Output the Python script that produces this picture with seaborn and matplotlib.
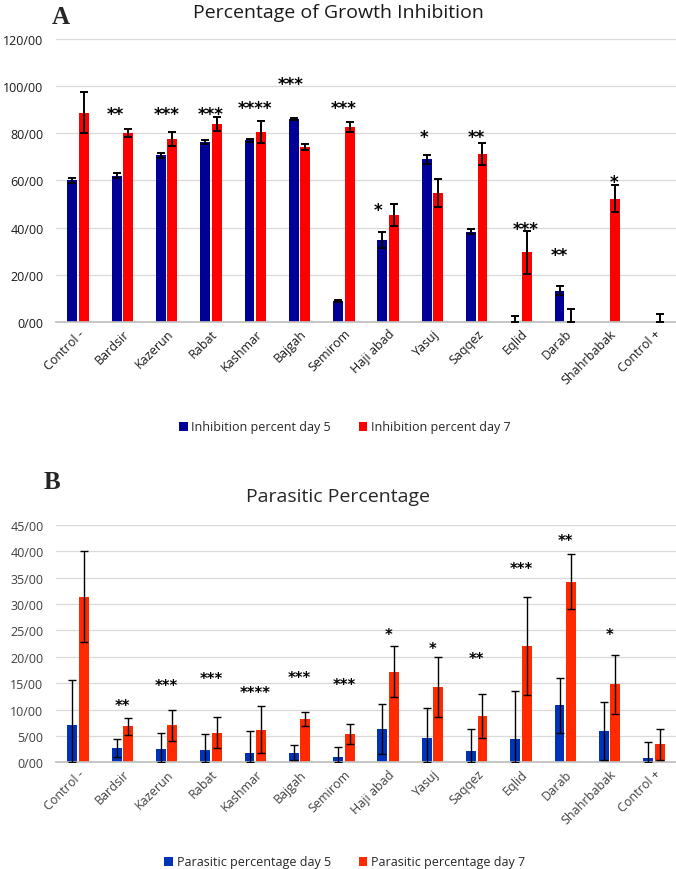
import numpy as np
import pandas as pd
import matplotlib
matplotlib.use("Agg")
import matplotlib.pyplot as plt
from matplotlib.ticker import FuncFormatter
import seaborn as sns

# Data
sites = ["Control -", "Bardsir", "Kazerun", "Rabat", "Kashmar", "Bajgah", "Semirom",
         "Haji abad", "Yasuj", "Saqqez", "Eqlid", "Darab", "Shahrbabak", "Control +"]

# Panel A: percentage of growth inhibition
inhib_day5 = [60.0, 62.0, 70.7, 76.4, 77.0, 86.0, 8.9, 34.7, 69.0, 38.2, 0.0, 13.2, 0.0, 0.0]
inhib_day5_err = [1.1, 1.0, 1.1, 0.8, 0.7, 0.3, 0.5, 3.2, 1.9, 1.1, 2.5, 1.8, 0.0, 0.0]
inhib_day7 = [88.8, 80.1, 77.5, 83.9, 80.6, 74.0, 82.7, 45.3, 54.6, 71.1, 29.4, 0.0, 52.3, 0.0]
inhib_day7_err = [8.6, 1.6, 3.1, 3.1, 4.7, 1.3, 2.2, 4.6, 5.9, 4.6, 9.2, 5.4, 5.7, 3.3]
inhib_stars = ["", "**", "***", "***", "****", "***", "***", "*", "*", "**", "***", "**", "*", ""]
inhib_star_y = [0, 89.5, 89.5, 89.5, 92.0, 102.2, 92.0, 48.5, 79.6, 79.6, 40.5, 29.4, 60.8, 0]

# Panel B: parasitic percentage
para_day5 = [7.0, 2.8, 2.6, 2.4, 1.7, 1.8, 1.0, 6.3, 4.6, 2.2, 4.35, 10.85, 6.0, 0.8]
para_day5_err = [8.6, 1.7, 3.0, 3.0, 4.3, 1.4, 2.0, 4.8, 5.7, 4.1, 9.2, 5.2, 5.5, 3.0]
para_day7 = [31.4, 6.8, 7.0, 5.6, 6.2, 8.2, 5.4, 17.2, 14.2, 8.8, 22.1, 34.2, 14.8, 3.4]
para_day7_err = [8.6, 1.6, 3.0, 2.9, 4.4, 1.4, 1.9, 4.8, 5.7, 4.2, 9.3, 5.2, 5.6, 3.0]
para_stars = ["", "**", "***", "***", "****", "***", "***", "*", "*", "**", "***", "**", "*", ""]
para_star_y = [0, 11.2, 15.0, 16.3, 13.75, 16.5, 15.2, 24.7, 22.1, 20.2, 37.2, 42.5, 24.8, 0]

# star horizontal nudges (category units) for panel A
star_dx_a = [0, -0.15, 0, 0, 0, -0.2, 0, -0.22, -0.2, 0, 0.1, -0.13, 0.1, 0]

sns.set_theme(style="white")
plt.rcParams["font.family"] = ["Open Sans", "DejaVu Sans"]


def long_frame(day5, day7, label5, label7):
    df5 = pd.DataFrame({"site": sites, "value": day5, "series": label5})
    df7 = pd.DataFrame({"site": sites, "value": day7, "series": label7})
    return pd.concat([df5, df7], ignore_index=True)


def draw_panel(ax, df, errs, colors, ymax, ystep, stars, star_y, star_dx,
               star_size, tick_color, err_lw, legend_y, fig):
    sns.barplot(data=df, x="site", y="value", hue="series", palette=colors,
                width=0.52, gap=0.14, errorbar=None, saturation=1,
                edgecolor="none", ax=ax)
    bar_groups = list(ax.containers)
    for bars, err in zip(bar_groups, errs):
        xs = [b.get_x() + b.get_width() / 2 for b in bars]
        hs = np.array([b.get_height() for b in bars])
        err = np.array(err)
        mask = err > 0
        lower = np.minimum(err, hs)
        ax.errorbar(np.array(xs)[mask], hs[mask],
                    yerr=[lower[mask], err[mask]], fmt="none",
                    ecolor="black", elinewidth=err_lw, capsize=3,
                    capthick=err_lw, zorder=4)
    # asterisks: nudge down so the glyph centre sits on the read value
    for i, s in enumerate(stars):
        if s:
            ax.annotate(s, (i + star_dx[i], star_y[i]), xytext=(0, -0.18 * star_size),
                        textcoords="offset points", ha="center", va="center",
                        fontsize=star_size, fontweight="bold", color="black",
                        family="DejaVu Sans", zorder=5)

    ax.set_xlim(-0.5, len(sites) - 0.5)
    ax.set_ylim(0, ymax)
    ax.set_yticks(np.arange(0, ymax + 0.1, ystep))
    ax.yaxis.set_major_formatter(FuncFormatter(lambda v, p: f"{v:.0f}/00"))
    ax.grid(axis="y", color="#d9d9d9", linewidth=0.9)
    ax.set_axisbelow(True)
    for side in ["top", "right", "left"]:
        ax.spines[side].set_visible(False)
    ax.spines["bottom"].set_color("#bfbfbf")
    ax.tick_params(axis="both", length=0, colors=tick_color, labelsize=9)
    ax.tick_params(axis="y", pad=9)
    plt.setp(ax.get_xticklabels(), rotation=45, ha="right",
             rotation_mode="anchor")
    ax.set_xlabel("")
    ax.set_ylabel("")

    handles, labels = ax.get_legend_handles_labels()
    ax.legend_.remove()
    fig.legend(handles, labels, loc="center", bbox_to_anchor=(0.51, legend_y),
               ncol=2, frameon=False, fontsize=9, handlelength=0.7,
               handleheight=0.7, handletextpad=0.3, columnspacing=2.2,
               labelcolor="#262626")


fig = plt.figure(figsize=(6.76, 8.70), dpi=100)

# Panel A
ax_a = fig.add_axes([0.0828, 0.629, 0.9172, 0.325])
df_a = long_frame(inhib_day5, inhib_day7,
                  "Inhibition percent day 5", "Inhibition percent day 7")
draw_panel(ax_a, df_a, [inhib_day5_err, inhib_day7_err],
           ["#000096", "#ff0000"], 120, 20, inhib_stars, inhib_star_y,
           star_dx_a, 12, "#1a1a1a", 1.4, 1 - 428 / 870, fig)
fig.text(0.5, 1 - 13 / 870, "Percentage of Growth Inhibition", ha="center",
         va="center", fontsize=14, color="#1a1a1a")
fig.text(61 / 676, 1 - 17 / 870, "A", ha="center", va="center", fontsize=18,
         fontweight="bold", family=["Liberation Serif", "DejaVu Serif"])

# Panel B
ax_b = fig.add_axes([0.0828, 0.1226, 0.9172, 0.273])
df_b = long_frame(para_day5, para_day7,
                  "Parasitic percentage day 5", "Parasitic percentage day 7")
draw_panel(ax_b, df_b, [para_day5_err, para_day7_err],
           ["#0033b8", "#ff2a00"], 45, 5, para_stars, para_star_y,
           [0] * len(sites), 10.5, "#404040", 1.0, 1 - 863 / 870, fig)
fig.text(0.5, 1 - 497 / 870, "Parasitic Percentage", ha="center",
         va="center", fontsize=14, color="#262626")
fig.text(52 / 676, 1 - 483 / 870, "B", ha="center", va="center", fontsize=18,
         fontweight="bold", family=["Liberation Serif", "DejaVu Serif"])

fig.savefig("out.png", dpi=100)
